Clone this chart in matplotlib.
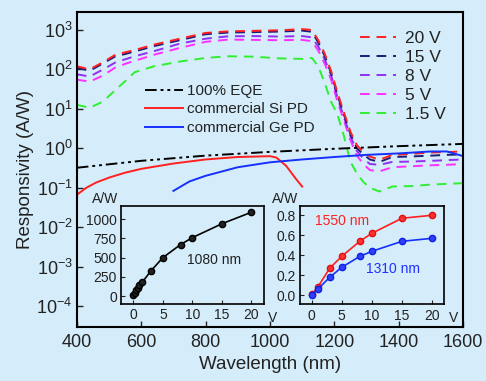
import matplotlib.pyplot as plt

plt.rcParams['font.family'] = ['Liberation Sans', 'DejaVu Sans']
plt.rcParams['mathtext.fontset'] = 'custom'
plt.rcParams['mathtext.rm'] = 'Liberation Sans'
plt.rcParams['mathtext.it'] = 'Liberation Sans'

# spectral responsivity of the device at several biases (A/W)
wl = [400, 440, 480, 520, 550, 580, 640, 720, 800, 870, 950, 1030, 1100, 1130,
      1150, 1170, 1190, 1210, 1230, 1250, 1270, 1290, 1310, 1340, 1380, 1440,
      1500, 1550, 1600]
r_20v = [120, 100, 150, 235, 270, 310, 425, 600, 840, 920, 950, 980, 1050, 1000,
         550, 250, 90, 25, 8, 2.6, 1.2, 0.8, 0.62, 0.51, 0.68, 0.72, 0.78, 0.8, 0.83]
r_15v = [110, 92, 140, 215, 245, 285, 390, 550, 780, 860, 880, 910, 960, 900,
         480, 220, 80, 22, 7, 2.3, 1.0, 0.7, 0.52, 0.45, 0.6, 0.62, 0.65, 0.68, 0.7]
r_8v = [75, 66, 98, 150, 180, 215, 290, 450, 600, 690, 700, 680, 700, 650,
        380, 180, 70, 19, 6, 2.0, 0.85, 0.55, 0.4, 0.38, 0.45, 0.46, 0.48, 0.5, 0.52]
r_5v = [55, 49, 69, 112, 138, 165, 235, 350, 500, 570, 560, 550, 560, 520,
        300, 140, 55, 15, 5, 1.6, 0.65, 0.4, 0.28, 0.26, 0.33, 0.35, 0.37, 0.38, 0.4]
r_1v5 = [12.6, 10.7, 15, 30, 50, 85, 120, 158, 195, 215, 210, 190, 185, 195,
         120, 45, 15, 7, 2, 0.45, 0.23, 0.14, 0.1, 0.08, 0.107, 0.11, 0.12, 0.125, 0.13]

# reference curves
eqe_wl = [400, 600, 800, 1000, 1200, 1400, 1600]
eqe_r = [0.32, 0.48, 0.65, 0.81, 0.97, 1.13, 1.29]
si_wl = [400, 430, 460, 500, 550, 600, 700, 800, 900, 1000, 1020, 1050, 1080, 1100]
si_r = [0.066, 0.1, 0.135, 0.18, 0.24, 0.3, 0.41, 0.52, 0.6, 0.63, 0.58, 0.36, 0.17, 0.107]
ge_wl = [700, 750, 800, 900, 1000, 1100, 1200, 1300, 1400, 1500, 1550, 1600]
ge_r = [0.083, 0.144, 0.2, 0.33, 0.44, 0.52, 0.6, 0.68, 0.74, 0.83, 0.83, 0.63]

# insets: responsivity vs bias
v_1080 = [0, 0.25, 0.5, 0.75, 1, 1.5, 3, 5, 8, 10, 15, 20]
r_1080 = [10, 45, 80, 110, 140, 180, 330, 500, 670, 760, 940, 1090]
v_ir = [0, 1, 3, 5, 8, 10, 15, 20]
r_1550 = [0.01, 0.08, 0.27, 0.39, 0.54, 0.62, 0.77, 0.80]
r_1310 = [0.0, 0.06, 0.18, 0.28, 0.39, 0.44, 0.54, 0.57]

bg = '#d5edfa'
txt = '#222222'
fig = plt.figure(figsize=(4.86, 3.81), dpi=100, facecolor=bg)
ax = fig.add_axes([0.158, 0.142, 0.795, 0.827], facecolor=bg)

dash = (5, 3.5)
lw = 1.4
series = [(r_20v, '#ff2020', '20 V'), (r_15v, '#1c1c7a', '15 V'),
          (r_8v, '#9030f0', '8 V'), (r_5v, '#ff30ff', '5 V'),
          (r_1v5, '#30ee30', '1.5 V')]
handles = []
for r, c, lab in series[::-1]:
    ln, = ax.plot(wl, r, color=c, lw=lw, dashes=dash, label=lab)
    handles.append(ln)
handles = handles[::-1]

l_eqe, = ax.plot(eqe_wl, eqe_r, color='black', lw=1.4, dashes=(6, 2, 1.5, 2, 1.5, 2))
l_si, = ax.plot(si_wl, si_r, color='#ff2020', lw=1.4)
l_ge, = ax.plot(ge_wl, ge_r, color='#1530ff', lw=1.4)

ax.set_yscale('log')
ax.set_xlim(400, 1600)
ax.set_ylim(10**-4.53, 10**3.46)
ax.set_xticks([400, 600, 800, 1000, 1200, 1400, 1600])
ax.set_yticks([10.0**k for k in range(-4, 4)])
ax.set_yticklabels(['$10^{%d}$' % k for k in range(-4, 4)])
ax.minorticks_off()
ax.tick_params(direction='in', length=4, width=1, labelsize=13, colors=txt, pad=5)
ax.tick_params(axis='y', pad=3)
for s in ax.spines.values():
    s.set_linewidth(1.5)
ax.set_xlabel('Wavelength (nm)', fontsize=13.5, color=txt, labelpad=4)
ax.set_ylabel('Responsivity (A/W)', fontsize=13.5, color=txt, labelpad=2)

leg1 = ax.legend(handles=handles, loc='upper right', bbox_to_anchor=(0.995, 0.988),
                 frameon=False, fontsize=12.5, handlelength=2.05, labelspacing=0.22,
                 handletextpad=0.5, labelcolor=txt)
ax.add_artist(leg1)
ax.legend([l_eqe, l_si, l_ge], ['100% EQE', 'commercial Si PD', 'commercial Ge PD'],
          loc='upper left', bbox_to_anchor=(0.141, 0.815), frameon=False, fontsize=11,
          handlelength=2.5, labelspacing=0.3, handletextpad=0.25, labelcolor=txt)

# inset 1
ax1 = fig.add_axes([0.249, 0.202, 0.294, 0.257], facecolor=bg)
ax1.plot(v_1080, r_1080, color='black', lw=1.2, marker='o', ms=4.5,
         markerfacecolor='#222222', markeredgecolor='black')
ax1.set_xlim(-2.1, 22.1)
ax1.set_ylim(-104, 1169)
ax1.set_xticks([0, 5, 10, 15, 20])
ax1.set_yticks([0, 250, 500, 750, 1000])
ax1.text(9, 420, '1080 nm', fontsize=10, color=txt)
ax1.text(-0.02, 1.0, 'A/W', transform=ax1.transAxes, fontsize=10, color=txt,
         ha='right', va='bottom')
ax1.text(1.03, -0.07, 'V', transform=ax1.transAxes, fontsize=10, color=txt,
         ha='left', va='top')

# inset 2
ax2 = fig.add_axes([0.617, 0.201, 0.297, 0.259], facecolor=bg)
ax2.plot(v_ir, r_1550, color='#ff2020', lw=1.2, marker='o', ms=4.5,
         markerfacecolor='#ff3030', markeredgecolor='#e01010')
ax2.plot(v_ir, r_1310, color='#1530ff', lw=1.2, marker='o', ms=4.5,
         markerfacecolor='#3040ff', markeredgecolor='#1020e0')
ax2.set_xlim(-1.94, 22)
ax2.set_ylim(-0.09, 0.895)
ax2.set_xticks([0, 5, 10, 15, 20])
ax2.set_yticks([0.0, 0.2, 0.4, 0.6, 0.8])
ax2.set_yticklabels(['0.0', '0.2', '0.4', '0.6', '0.8'])
ax2.text(0.5, 0.7, '1550 nm', fontsize=10, color='#ff2020')
ax2.text(9, 0.22, '1310 nm', fontsize=10, color='#2030ff')
ax2.text(-0.01, 1.0, 'A/W', transform=ax2.transAxes, fontsize=10, color=txt,
         ha='right', va='bottom')
ax2.text(1.03, -0.07, 'V', transform=ax2.transAxes, fontsize=10, color=txt,
         ha='left', va='top')

for a in (ax1, ax2):
    a.minorticks_off()
    a.tick_params(direction='in', length=3, width=0.8, labelsize=10, colors=txt, pad=3)
    for s in a.spines.values():
        s.set_linewidth(1.2)

fig.savefig('out.png', dpi=100, facecolor=bg)
